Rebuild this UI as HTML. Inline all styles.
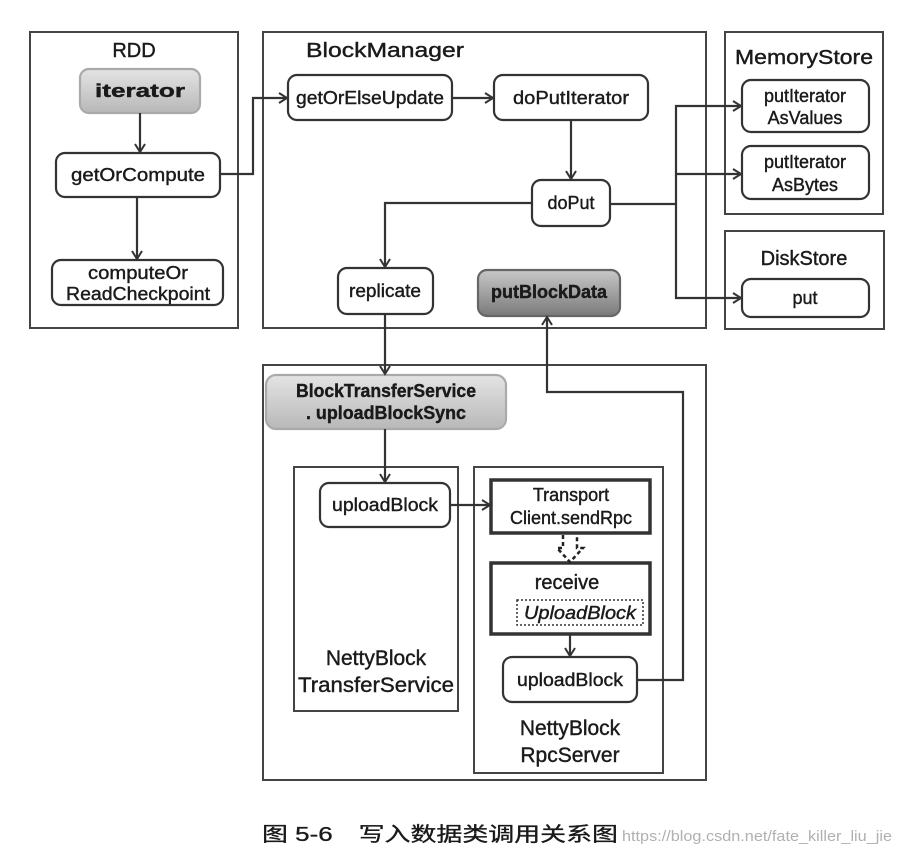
<!DOCTYPE html>
<html><head><meta charset="utf-8"><style>
html,body{margin:0;padding:0;background:#fff}
svg text{font-family:"Liberation Sans","Noto Sans CJK SC",sans-serif;fill:#1a1a1a}
</style></head><body>
<svg width="903" height="858" viewBox="0 0 903 858" xmlns="http://www.w3.org/2000/svg">
<defs>
<linearGradient id="g1" x1="0" y1="0" x2="0" y2="1"><stop offset="0" stop-color="#e4e4e4"/><stop offset="1" stop-color="#b8b8b8"/></linearGradient>
<linearGradient id="g2" x1="0" y1="0" x2="0" y2="1"><stop offset="0" stop-color="#c8c8c8"/><stop offset="1" stop-color="#7a7a7a"/></linearGradient>
<marker id="a" markerWidth="12" markerHeight="12" refX="10" refY="6" orient="auto" markerUnits="userSpaceOnUse"><path d="M2,1 L10,6 L2,11" fill="none" stroke="#333" stroke-width="2"/></marker>
</defs>
<g fill="none" stroke="#444" stroke-width="2">
<rect x="30" y="32" width="208" height="296"/>
<rect x="263" y="32" width="443" height="296"/>
<rect x="725" y="32" width="158" height="182"/>
<rect x="725" y="231" width="159" height="98"/>
<rect x="263" y="365" width="443" height="415"/>
<rect x="294" y="467" width="164" height="244"/>
<rect x="474" y="467" width="189" height="306"/>
</g>
<g stroke="#333" stroke-width="2.2">
<rect x="80" y="69" width="120" height="44" rx="9" fill="url(#g1)" stroke="#aaa"/>
<rect x="56" y="153" width="164" height="44" rx="9" fill="#fff"/>
<rect x="52" y="260" width="171" height="45" rx="9" fill="#fff"/>
<rect x="288" y="75" width="164" height="45" rx="9" fill="#fff"/>
<rect x="494" y="75" width="154" height="45" rx="9" fill="#fff"/>
<rect x="532" y="180" width="78" height="46" rx="9" fill="#fff"/>
<rect x="338" y="268" width="95" height="46" rx="9" fill="#fff"/>
<rect x="478" y="270" width="142" height="46" rx="9" fill="url(#g2)" stroke="#666"/>
<rect x="742" y="80" width="127" height="52" rx="9" fill="#fff"/>
<rect x="742" y="146" width="127" height="53" rx="9" fill="#fff"/>
<rect x="742" y="279" width="127" height="38" rx="9" fill="#fff"/>
<rect x="266" y="375" width="240" height="54" rx="10" fill="url(#g1)" stroke="#aaa"/>
<rect x="320" y="483" width="130" height="44" rx="9" fill="#fff"/>
<rect x="491" y="480" width="159" height="53" fill="#fff" stroke-width="3.5"/>
<rect x="491" y="563" width="159" height="71" fill="#fff" stroke-width="3.5"/>
<rect x="517" y="600" width="126" height="25" fill="none" stroke-width="1.5" stroke-dasharray="2,2"/>
<rect x="503" y="657" width="134" height="45" rx="9" fill="#fff"/>
</g>
<g fill="none" stroke="#333" stroke-width="2.2" marker-end="url(#a)">
<path d="M140,113 V152"/>
<path d="M137,197 V259"/>
<path d="M220,174 H253 V98 H287"/>
<path d="M452,98 H493"/>
<path d="M571,120 V179"/>
<path d="M532,203 H385 V267"/>
<path d="M610,204 H676 V106 H741"/>
<path d="M676,174 H741"/>
<path d="M676,204 V298 H741"/>
<path d="M385,314 V374"/>
<path d="M637,680 H683 V392 H547 V317"/>
<path d="M385,429 V482"/>
<path d="M450,505 H490"/>
<path d="M570,634 V656"/>
</g>
<path d="M563,535 V548 H557 L570,562 L583,548 H577 V535" fill="none" stroke="#222" stroke-width="2.5" stroke-dasharray="4,3"/>
<g font-size="18" text-anchor="middle" stroke="#1a1a1a" stroke-width="0.4">
<text x="134" y="57" font-size="20">RDD</text>
<text x="385" y="57" font-size="20" textLength="158" lengthAdjust="spacingAndGlyphs">BlockManager</text>
<text x="804" y="64" font-size="20" textLength="138" lengthAdjust="spacingAndGlyphs">MemoryStore</text>
<text x="804" y="265" font-size="20">DiskStore</text>
<text x="140" y="97" font-weight="bold" textLength="90" lengthAdjust="spacingAndGlyphs">iterator</text>
<text x="138" y="181" textLength="134" lengthAdjust="spacingAndGlyphs">getOrCompute</text>
<text x="138" y="279" textLength="100" lengthAdjust="spacingAndGlyphs">computeOr</text>
<text x="138" y="300" textLength="144" lengthAdjust="spacingAndGlyphs">ReadCheckpoint</text>
<text x="370" y="104" textLength="148" lengthAdjust="spacingAndGlyphs">getOrElseUpdate</text>
<text x="571" y="104" textLength="116" lengthAdjust="spacingAndGlyphs">doPutIterator</text>
<text x="571" y="209">doPut</text>
<text x="385" y="297" textLength="72" lengthAdjust="spacingAndGlyphs">replicate</text>
<text x="549" y="298" font-weight="bold" textLength="116" lengthAdjust="spacingAndGlyphs">putBlockData</text>
<text x="805" y="102">putIterator</text>
<text x="805" y="124">AsValues</text>
<text x="805" y="168">putIterator</text>
<text x="805" y="191">AsBytes</text>
<text x="805" y="304">put</text>
<text x="386" y="397" font-weight="bold" textLength="180" lengthAdjust="spacingAndGlyphs">BlockTransferService</text>
<text x="386" y="419" font-weight="bold" textLength="160" lengthAdjust="spacingAndGlyphs">. uploadBlockSync</text>
<text x="385" y="511" textLength="106" lengthAdjust="spacingAndGlyphs">uploadBlock</text>
<text x="571" y="501">Transport</text>
<text x="571" y="524">Client.sendRpc</text>
<text x="567" y="589" font-size="20">receive</text>
<text x="580" y="619" font-style="italic" textLength="112" lengthAdjust="spacingAndGlyphs">UploadBlock</text>
<text x="570" y="686" textLength="106" lengthAdjust="spacingAndGlyphs">uploadBlock</text>
<text x="376" y="665" font-size="21">NettyBlock</text>
<text x="376" y="692" font-size="21" textLength="156" lengthAdjust="spacingAndGlyphs">TransferService</text>
<text x="570" y="735" font-size="21">NettyBlock</text>
<text x="570" y="762" font-size="21">RpcServer</text>
</g>
<text x="262" y="841" font-size="20" fill="#111" stroke="#111" stroke-width="0.3" textLength="356" lengthAdjust="spacingAndGlyphs">图 5-6　写入数据类调用关系图</text>
<text x="622" y="841" font-size="15" style="fill:#b0b0b0" textLength="270" lengthAdjust="spacingAndGlyphs">https://blog.csdn.net/fate_killer_liu_jie</text>
</svg>
</body></html>
